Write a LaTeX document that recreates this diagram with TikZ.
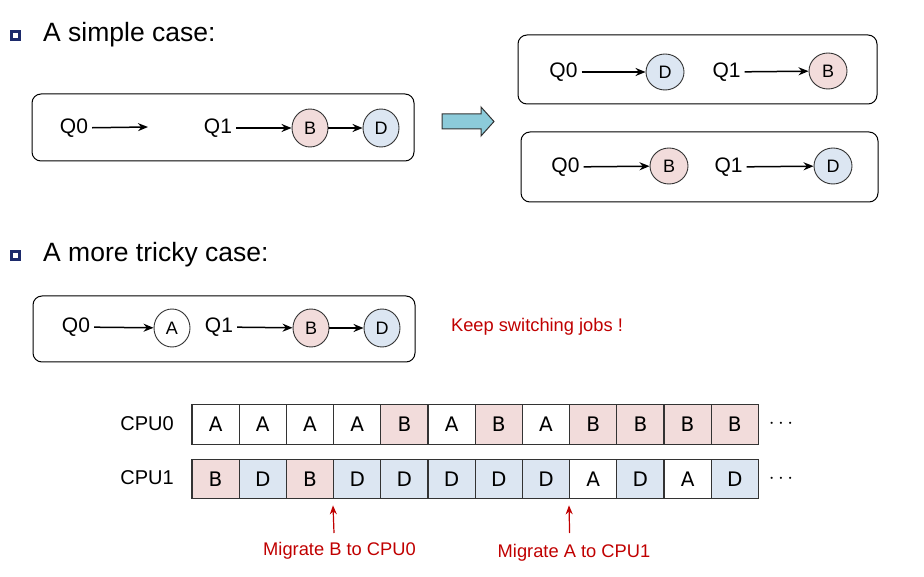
\documentclass[tikz,border=0pt]{standalone}
\usepackage{fontspec}
\setmainfont{Liberation Sans}
\newfontfamily\cellfont{DejaVu Sans}
\usetikzlibrary{arrows.meta,shapes.geometric}
\definecolor{pinkc}{HTML}{F2DCDB}
\definecolor{bluec}{HTML}{DCE6F2}
\definecolor{navy}{HTML}{1C2A6B}
\definecolor{redc}{HTML}{C00000}
\definecolor{bigarrow}{HTML}{8CCBDA}
\definecolor{edgec}{HTML}{333333}
\tikzset{
  heading/.style={anchor=base west,inner sep=0pt,font=\fontsize{26.5}{30}\selectfont},
  bulletbox/.style={draw=navy,line width=3pt,fill=white,minimum size=8pt,inner sep=0pt},
  panel/.style={draw=black,line width=1pt,rounded corners=9pt},
  qlabel/.style={inner sep=1pt,outer sep=3pt,font=\fontsize{21}{24}\selectfont},
  job/.style={ellipse,draw=edgec,line width=0.9pt,minimum width=36pt,minimum height=38pt,inner sep=0pt,font=\fontsize{18}{20}\selectfont},
  pinkjob/.style={job,fill=pinkc},
  bluejob/.style={job,fill=bluec},
  whitejob/.style={job,fill=white},
  qarrow/.style={-{Stealth[length=10pt,width=8pt]},line width=1.5pt,black},
  cell/.style={draw=edgec,line width=1.2pt,minimum width=47.2pt,minimum height=39.5pt,inner sep=0pt,font=\cellfont\fontsize{20}{22}\selectfont},
  cA/.style={cell,fill=white},
  cB/.style={cell,fill=pinkc},
  cD/.style={cell,fill=bluec},
  cpulabel/.style={inner sep=0pt,font=\fontsize{20}{24}\selectfont},
  redtext/.style={inner sep=0pt,text=redc,font=\fontsize{18.3}{22}\selectfont},
  redarrow/.style={-{Stealth[length=9pt,width=7pt]},line width=1.2pt,draw=redc},
  dots/.style={inner sep=0pt,font=\fontsize{22}{24}\selectfont}
}
\begin{document}
\begin{tikzpicture}[x=1pt,y=-1pt]
\useasboundingbox (0,0) rectangle (924,577);

% headings
\node[bulletbox] (b1) at (15,36) {};
\node[heading] (h1) at (43,42) {A simple case:};
\node[bulletbox] (b2) at (15,256) {};
\node[heading] (h2) at (43,262) {A more tricky case:};

% box 1
\draw[panel] (32,94) rectangle (414,161);
\node[qlabel] (s0) at (74,128) {Q0};
\coordinate (s0end) at (148,127);
\draw[qarrow] (s0) -- (s0end);
\node[qlabel] (s1) at (218,128) {Q1};
\node[pinkjob] (sB) at (310,128) {B};
\node[bluejob] (sD) at (381,128) {D};
\draw[qarrow] (s1) -- (sB);
\draw[qarrow] (sB) -- (sD);

% big arrow
\draw[fill=bigarrow,draw=edgec,line width=1pt]
  (442,114) -- (481,114) -- (481,107) -- (494,121.5) -- (481,136) -- (481,129) -- (442,129) -- cycle;

% top right
\draw[panel] (518,35) rectangle (877,104);
\node[qlabel] (t0) at (563.5,72) {Q0};
\node[bluejob,minimum width=38pt,minimum height=36pt] (tD) at (665,72) {D};
\node[qlabel] (t1) at (726.5,72) {Q1};
\node[pinkjob,minimum width=38pt,minimum height=36pt] (tB) at (828,71) {B};
\draw[qarrow] (t0) -- (tD);
\draw[qarrow] (t1) -- (tB);

% bottom right
\draw[panel] (521,132) rectangle (878,202);
\node[qlabel] (u0) at (565.5,167) {Q0};
\node[pinkjob,minimum width=38pt,minimum height=36pt] (uB) at (669,166) {B};
\node[qlabel] (u1) at (728.5,167) {Q1};
\node[bluejob,minimum width=38pt,minimum height=36pt] (uD) at (833,166) {D};
\draw[qarrow] (u0) -- (uB);
\draw[qarrow] (u1) -- (uD);

% box 2
\draw[panel] (33,296) rectangle (415,362);
\node[qlabel] (v0) at (76,327) {Q0};
\node[whitejob] (vA) at (172,328) {A};
\node[qlabel] (v1) at (219,327) {Q1};
\node[pinkjob] (vB) at (311,328) {B};
\node[bluejob] (vD) at (382,328) {D};
\draw[qarrow] (v0) -- (vA);
\draw[qarrow] (v1) -- (vB);
\draw[qarrow] (vB) -- (vD);
\node[redtext] (keep) at (537,327) {Keep switching jobs !};

% CPU rows
\node[cpulabel] (cpu0) at (147,424) {CPU0};
\node[cpulabel] (cpu1) at (147,478) {CPU1};
\foreach \t [count=\i from 0] in {A,A,A,A,B,A,B,A,B,B,B,B}{
  \node[c\t] (r0-\i) at ({192+47.2*\i+23.6},424.5) {\t};
}
\foreach \t [count=\i from 0] in {B,D,B,D,D,D,D,D,A,D,A,D}{
  \node[c\t] (r1-\i) at ({192+47.2*\i+23.6},479) {\t};
}
\node[dots] (d0) at (781,424) {$\cdots$};
\node[dots] (d1) at (781,479) {$\cdots$};

% migrations
\node[redtext] (m1) at (339.5,551) {Migrate B to CPU0};
\node[redtext] (m2) at (574,553) {Migrate A to CPU1};
\coordinate (m1s) at (334,533);
\coordinate (m2s) at (569.6,533);
\draw[redarrow] (m1s) -- ([yshift=-6pt]r1-3.south west);
\draw[redarrow] (m2s) -- ([yshift=-6pt]r1-8.south west);
\end{tikzpicture}
\end{document}
